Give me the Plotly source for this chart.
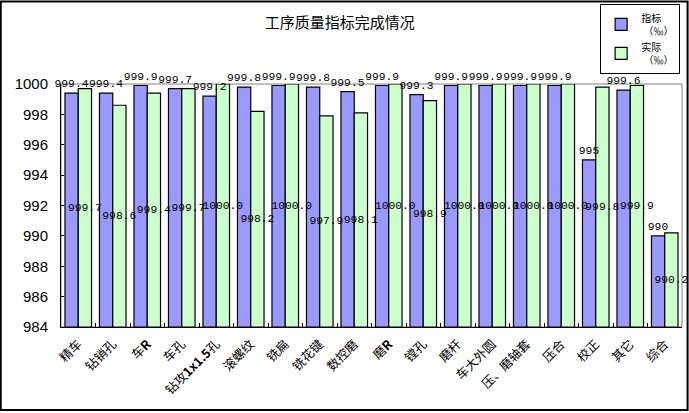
import plotly.graph_objects as go

# 工序 categories
categories = ["精车", "钻销孔", "车<b>R</b>", "车孔", "钻攻<b>1x1.5</b>孔", "滚螺纹", "铣扁",
              "铣花键", "数控磨", "磨<b>R</b>", "镗孔", "磨杆", "车大外圆", "压、磨轴套",
              "压合", "校正", "其它", "综合"]

# 指标 / 实际 values (‰)
target = [999.4, 999.4, 999.9, 999.7, 999.2, 999.8, 999.9, 999.8, 999.5,
          999.9, 999.3, 999.9, 999.9, 999.9, 999.9, 995.0, 999.6, 990.0]
actual = [999.7, 998.6, 999.4, 999.7, 1000.0, 998.2, 1000.0, 997.9, 998.1,
          1000.0, 998.9, 1000.0, 1000.0, 1000.0, 1000.0, 999.8, 999.9, 990.2]

y_min, y_max = 984, 1000
y_ticks = list(range(984, 1001, 2))

num_font = dict(family="Liberation Mono, DejaVu Sans Mono, monospace", size=11.3, color="black")
bar_w = 0.385

fig = go.Figure()

# 指标 bars
fig.add_trace(go.Bar(
    x=categories,
    y=[v - y_min for v in target],
    base=y_min,
    width=bar_w, offset=-bar_w,
    name="指标<br> （‰）",
    marker=dict(color="#9999FF", line=dict(color="black", width=1.2)),
))

# 实际 bars, values centred in the bar
fig.add_trace(go.Bar(
    x=categories,
    y=[v - y_min for v in actual],
    base=y_min,
    width=bar_w, offset=0,
    name="实际<br> （‰）",
    marker=dict(color="#CCFFCC", line=dict(color="black", width=1.2)),
    text=[("%.1f" % v) for v in actual],
    textposition="inside",
    insidetextanchor="middle",
    textangle=0,
    constraintext="none",
    cliponaxis=False,
    textfont=num_font,
))

# 指标 labels on top of everything
fig.add_trace(go.Bar(
    x=categories,
    y=[v - y_min for v in target],
    base=y_min,
    width=bar_w, offset=-bar_w,
    showlegend=False, hoverinfo="skip",
    marker=dict(color="rgba(0,0,0,0)", line=dict(width=0)),
    text=[("%g" % v) for v in target],
    textposition="outside",
    textangle=0,
    constraintext="none",
    cliponaxis=False,
    textfont=num_font,
))

fig.update_layout(
    width=689, height=413,
    margin=dict(l=61, r=7, t=84, b=86, autoexpand=False),
    paper_bgcolor="white",
    plot_bgcolor="white",
    barmode="overlay",
    title=dict(text="工序质量指标完成情况", x=0.493, xanchor="center", y=0.945, yanchor="middle",
               font=dict(family="Noto Sans CJK SC", size=15, color="black")),
    legend=dict(x=0.997, y=1.33, xanchor="right", yanchor="top",
                bgcolor="white", bordercolor="black", borderwidth=1,
                font=dict(family="Noto Sans CJK SC", size=10, color="black"),
                itemwidth=30, tracegroupgap=0),
    font=dict(family="Noto Sans CJK SC", color="black"),
)

fig.update_xaxes(
    tickangle=-45,
    tickfont=dict(family="Noto Sans CJK SC", size=12.5, color="black"),
    showline=True, linecolor="black", linewidth=1,
    ticks="inside", ticklen=4, tickcolor="black", tickson="boundaries",
    ticklabelstandoff=4,
    showgrid=False,
)
fig.update_yaxes(
    range=[y_min, y_max],
    tickvals=y_ticks,
    tickfont=dict(family="Liberation Sans, Arial", size=15, color="black"),
    showline=True, linecolor="black", linewidth=1,
    ticks="inside", ticklen=3, tickcolor="black",
    ticklabelstandoff=9,
    showgrid=False, zeroline=False,
)

# gray plot-area frame and outer black border
fig.add_shape(type="rect", xref="paper", yref="paper", x0=0, y0=0, x1=1, y1=1,
              line=dict(color="#808080", width=1), layer="below")
fig.add_shape(type="rect", xref="paper", yref="paper", x0=-0.097, y0=-0.342, x1=1.009, y1=1.34,
              line=dict(color="black", width=2), layer="below")

fig.write_html("out.html", config={"displayModeBar": False},
               post_script="document.body.style.margin='0';")
